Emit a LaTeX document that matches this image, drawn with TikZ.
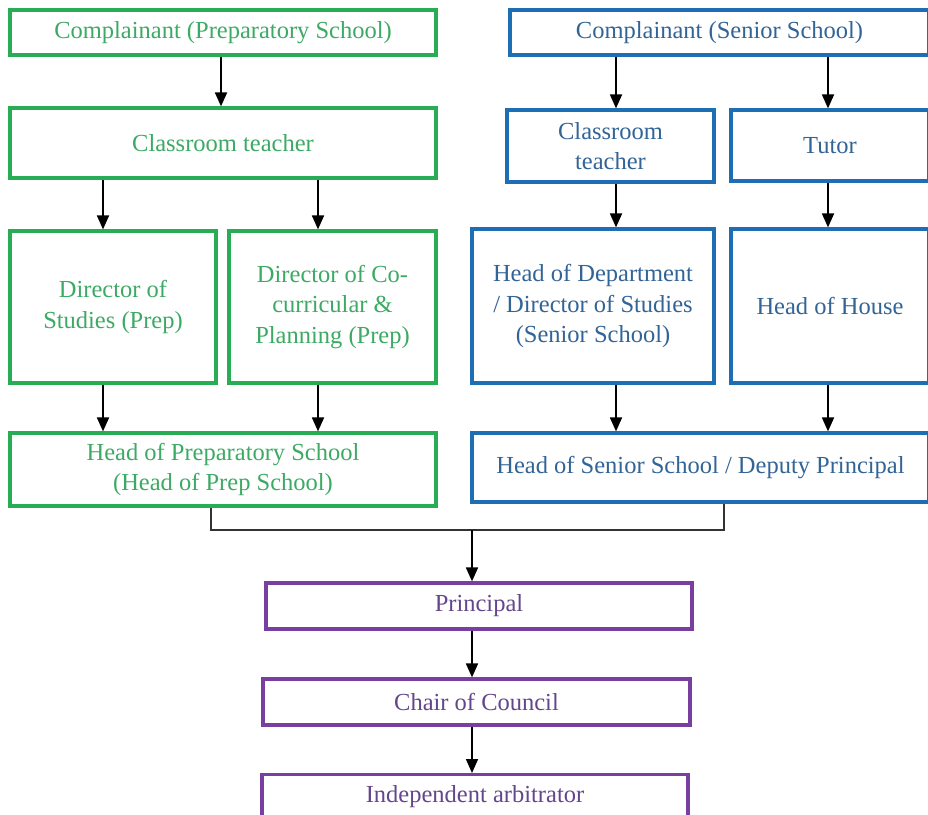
\documentclass[tikz,border=0pt]{standalone}
\usepackage{fontspec}
\setmainfont{Liberation Serif}
\usetikzlibrary{arrows.meta}
\definecolor{gline}{RGB}{40,172,84}
\definecolor{gtext}{RGB}{60,170,100}
\definecolor{bline}{RGB}{30,110,180}
\definecolor{btext}{RGB}{50,100,150}
\definecolor{pline}{RGB}{120,62,160}
\definecolor{ptext}{RGB}{100,70,140}
\tikzset{
  box/.style={draw, line width=3.2pt, rectangle, align=center, inner sep=0pt,
    font=\fontsize{24.5}{30.5}\selectfont},
  gbox/.style={box, draw=gline, text=gtext},
  bbox/.style={box, draw=bline, text=btext},
  pbox/.style={box, draw=pline, text=ptext},
  arr/.style={line width=1.8pt, -{Triangle[length=14pt,width=12pt]}},
  ln/.style={line width=1.5pt, draw=black!80},
}
% box from (x1,y1) to (x2,y2) in pixel coords
\newcommand{\mybox}[7]{%
  \node[#1, minimum width={#4-#2}, minimum height={#5-#3}] (#6) at ({(#2+#4)/2},{(#3+#5)/2}) {#7};}
\begin{document}
\begin{tikzpicture}[x=1pt,y=-1pt]
\useasboundingbox (0,0) rectangle (928,814);
\fill[white] (0,0) rectangle (928,814);
% prep
\mybox{gbox}{10}{10}{436}{55}{cp}{Complainant (Preparatory School)}
\mybox{gbox}{10}{108}{436}{178}{ctp}{Classroom teacher}
\mybox{gbox}{10}{231}{216}{383}{dsp}{Director of\\Studies (Prep)}
\mybox{gbox}{229}{231}{436}{383}{dcc}{Director of Co-\\curricular \&\\Planning (Prep)}
\mybox{gbox}{10}{433}{436}{506}{hps}{Head of Preparatory School\\(Head of Prep School)}
% senior
\mybox{bbox}{510}{10}{929}{55}{cs}{Complainant (Senior School)}
\mybox{bbox}{507}{110}{714}{182}{cts}{Classroom\\teacher}
\mybox{bbox}{731}{110}{929}{181}{tut}{Tutor}
\mybox{bbox}{472}{229}{714}{383}{hod}{Head of Department\\/ Director of Studies\\(Senior School)}
\mybox{bbox}{731}{229}{929}{383}{hoh}{Head of House}
\mybox{bbox}{472}{433}{929}{502}{hss}{Head of Senior School / Deputy Principal}
% common
\mybox{pbox}{266}{583}{692}{629}{pri}{Principal}
\mybox{pbox}{263}{679}{690}{725}{coc}{Chair of Council}
\node[pbox, minimum width=426pt, minimum height=60pt, anchor=north] (arb) at (475,773) {};
\node[text=ptext, font=\fontsize{24.5}{30.5}\selectfont] (arbt) at (475,797) {Independent arbitrator};
% arrows
\draw[arr] (cp.south -| 221,0) -- (ctp.north -| 221,0);
\draw[arr] (ctp.south -| 103,0) -- (dsp.north -| 103,0);
\draw[arr] (ctp.south -| 318,0) -- (dcc.north -| 318,0);
\draw[arr] (dsp.south -| 103,0) -- (hps.north -| 103,0);
\draw[arr] (dcc.south -| 318,0) -- (hps.north -| 318,0);
\draw[arr] (cs.south -| 616,0) -- (cts.north -| 616,0);
\draw[arr] (cs.south -| 828,0) -- (tut.north -| 828,0);
\draw[arr] (cts.south -| 616,0) -- (hod.north -| 616,0);
\draw[arr] (tut.south -| 828,0) -- (hoh.north -| 828,0);
\draw[arr] (hod.south -| 616,0) -- (hss.north -| 616,0);
\draw[arr] (hoh.south -| 828,0) -- (hss.north -| 828,0);
\coordinate (jl) at (211,530);
\coordinate (jr) at (724,530);
\coordinate (jm) at (472,530);
\draw[ln] (hps.south -| jl) -- (jl) -- (jr) -- (hss.south -| jr);
\draw[arr] (jm) -- (pri.north -| jm);
\draw[arr] (pri.south -| jm) -- (coc.north -| jm);
\draw[arr] (coc.south -| jm) -- (arb.north -| jm);
\end{tikzpicture}
\end{document}
